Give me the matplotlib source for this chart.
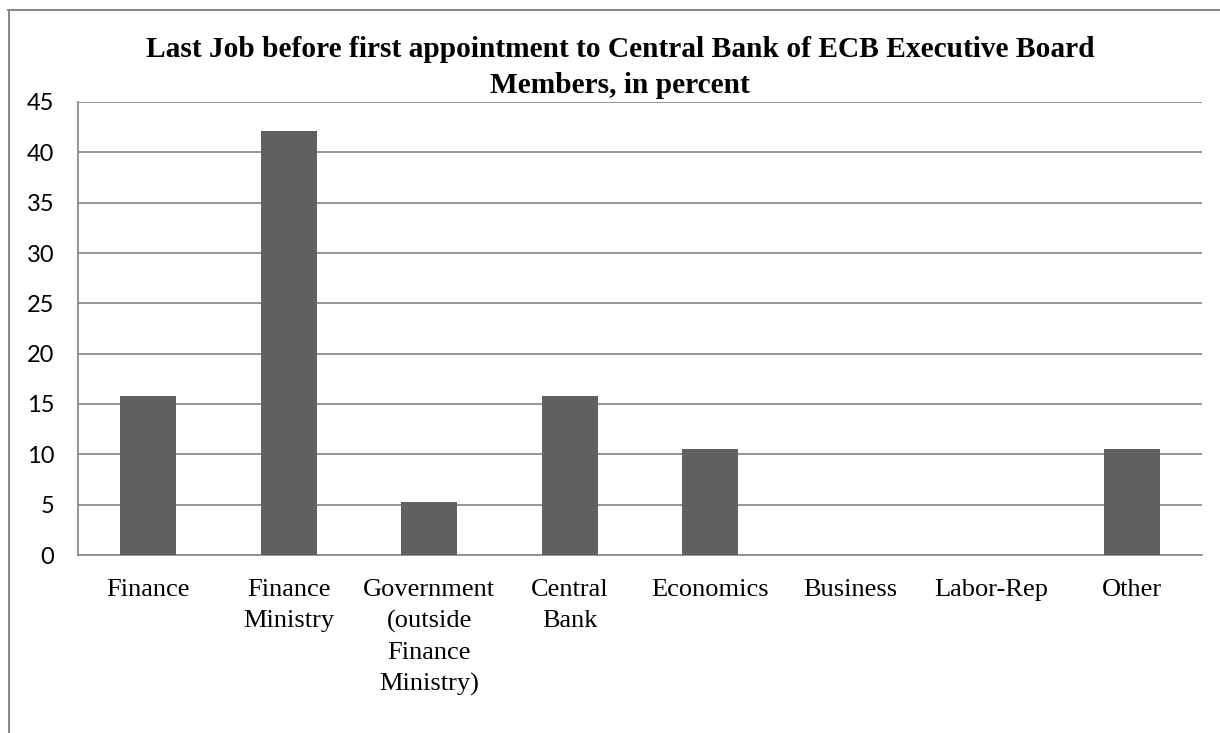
import matplotlib
matplotlib.use('Agg')
import matplotlib.pyplot as plt
from matplotlib.lines import Line2D

# Du lieu doc tu bieu do goc
categories = ["Finance", "Finance\nMinistry", "Government\n(outside\nFinance\nMinistry)",
              "Central\nBank", "Economics", "Business", "Labor-Rep", "Other"]
percent = [15.79, 42.11, 5.26, 15.79, 10.53, 0.0, 0.0, 10.53]
y_ticks = [0, 5, 10, 15, 20, 25, 30, 35, 40, 45]

title = "Last Job before first appointment to Central Bank of ECB Executive Board\nMembers, in percent"

W, H = 1220, 733
fig = plt.figure(figsize=(W / 100, H / 100), dpi=100)
fig.patch.set_facecolor('white')

# khung bieu do (chi thay canh trai va canh tren)
frame_col = '#868686'
fig.add_artist(Line2D([8.5 / W, 8.5 / W], [0, 1 - 10 / H], color=frame_col, lw=1.4))
fig.add_artist(Line2D([8 / W, 1], [1 - 10 / H, 1 - 10 / H], color=frame_col, lw=1.4))

ax = fig.add_axes([78 / W, 1 - 555 / H, (1202 - 78) / W, (555 - 102) / H])
x = range(len(categories))
ax.bar(x, percent, width=0.4, color='#606060', zorder=3)

ax.set_xlim(-0.5, len(categories) - 0.5)
ax.set_ylim(0, 45)
ax.set_yticks(y_ticks)
ax.set_yticklabels([str(v) for v in y_ticks], fontfamily='Lato', fontsize=17)
ax.set_xticks(list(x))
ax.set_xticklabels(categories, fontfamily='Liberation Serif', fontsize=19,
                   linespacing=1.5, va='top')

ax.grid(axis='y', color='#8c8c8c', lw=1.3, zorder=0)
ax.tick_params(axis='y', length=0, pad=17)
ax.tick_params(axis='x', length=0, pad=17.5)
for side in ['top', 'right']:
    ax.spines[side].set_visible(False)
for side in ['left', 'bottom']:
    ax.spines[side].set_color('#8c8c8c')
    ax.spines[side].set_linewidth(1.3)

fig.text(620 / W, 1 - 36 / H, title, ha='center', va='top', fontfamily='Liberation Serif',
         fontweight='bold', fontsize=21.2, linespacing=1.42)

fig.savefig('out.png', dpi=100)
